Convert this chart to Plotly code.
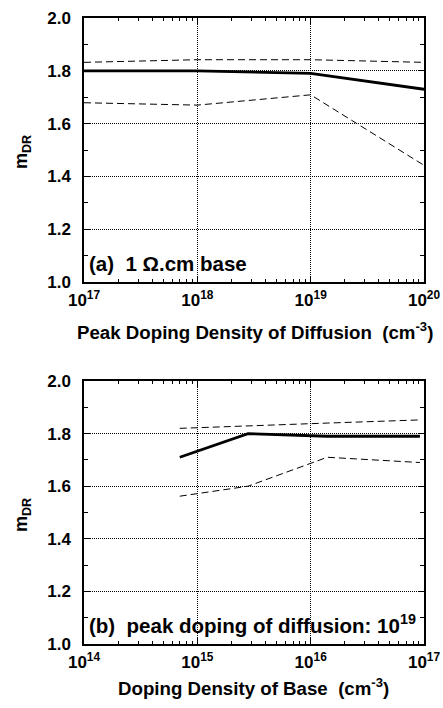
import plotly.graph_objects as go

# ---- data ----
top_x = [1e17, 1e18, 1e19, 1e20]
top_mid = [1.80, 1.80, 1.79, 1.73]
top_upper = [1.832, 1.842, 1.842, 1.832]
top_lower = [1.679, 1.670, 1.709, 1.442]

bot_x = [7e14, 2.8e15, 1.4e16, 9.2e16]
bot_mid = [1.71, 1.80, 1.79, 1.79]
bot_upper = [1.82, 1.83, 1.84, 1.852]
bot_lower = [1.562, 1.60, 1.71, 1.69]

top_ticks = [1e17, 1e18, 1e19, 1e20]
top_ticktext = ["10<sup>17</sup>", "10<sup>18</sup>", "10<sup>19</sup>", "10<sup>20</sup>"]
bot_ticks = [1e14, 1e15, 1e16, 1e17]
bot_ticktext = ["10<sup>14</sup>", "10<sup>15</sup>", "10<sup>16</sup>", "10<sup>17</sup>"]
y_ticks = [1.0, 1.2, 1.4, 1.6, 1.8, 2.0]
y_ticktext = ["1.0", "1.2", "1.4", "1.6", "1.8", "2.0"]

FONT = "Arial, Liberation Sans, sans-serif"
W, H = 443, 708

def px(x):
    return x / W

def py(y):
    return 1 - y / H

fig = go.Figure()

def add_set(x, mid, up, lo, xa, ya):
    fig.add_trace(go.Scatter(x=x, y=up, mode="lines", xaxis=xa, yaxis=ya,
                             line=dict(color="black", width=1, dash="7px,4px"), showlegend=False))
    fig.add_trace(go.Scatter(x=x, y=lo, mode="lines", xaxis=xa, yaxis=ya,
                             line=dict(color="black", width=1, dash="7px,4px"), showlegend=False))
    fig.add_trace(go.Scatter(x=x, y=mid, mode="lines", xaxis=xa, yaxis=ya,
                             line=dict(color="black", width=2.8), showlegend=False))

add_set(top_x, top_mid, top_upper, top_lower, "x", "y")
add_set(bot_x, bot_mid, bot_upper, bot_lower, "x2", "y2")

def minor_log(lo, hi):
    v = []
    for e in range(lo, hi):
        for k in range(2, 10):
            v.append(float(k) * 10.0 ** e)
    return v

xdom = [px(84), px(424)]
top_dom = [py(282), py(18)]
bot_dom = [py(644), py(381)]

def xaxis(dom, anchor, lo, hi, tv, tt):
    return dict(domain=dom, anchor=anchor, type="log", range=[lo, hi], automargin=False,
                tickmode="array", tickvals=tv, ticktext=tt,
                ticks="inside", ticklen=6, tickcolor="black",
                showline=True, linecolor="black", linewidth=1.5, mirror="ticks",
                showgrid=True, gridcolor="black", griddash="1px,1px", gridwidth=1,
                minor=dict(tickmode="array", tickvals=minor_log(lo, hi), ticks="inside",
                           ticklen=3, tickcolor="black", showgrid=False),
                tickfont=dict(family=FONT, size=17, color="black", weight="bold"),
                ticklabelstandoff=2, zeroline=False)

def yaxis(dom, anchor):
    return dict(domain=dom, anchor=anchor, range=[1.0, 2.0], automargin=False,
                tickmode="array", tickvals=y_ticks, ticktext=y_ticktext,
                ticks="inside", ticklen=6, tickcolor="black",
                showline=True, linecolor="black", linewidth=1.5, mirror="ticks",
                showgrid=True, gridcolor="black", griddash="1px,1px", gridwidth=1,
                minor=dict(tickmode="array", tickvals=[1.1, 1.3, 1.5, 1.7, 1.9], ticks="inside",
                           ticklen=4, tickcolor="black", showgrid=False),
                tickfont=dict(family=FONT, size=17, color="black", weight="bold"),
                ticklabelstandoff=8, zeroline=False)

fig.update_layout(
    width=W, height=H, margin=dict(l=0, r=0, t=0, b=0),
    paper_bgcolor="white", plot_bgcolor="white",
    xaxis=xaxis(xdom, "y", 17, 20, top_ticks, top_ticktext),
    yaxis=yaxis(top_dom, "x"),
    xaxis2=xaxis(xdom, "y2", 14, 17, bot_ticks, bot_ticktext),
    yaxis2=yaxis(bot_dom, "x2"),
)

ann_font = dict(family=FONT, size=18.7, color="black", weight="bold")
anns = [
    dict(text="Peak Doping Density of Diffusion &nbsp;(cm<sup>-3</sup>)", x=px((76 + 433) / 2), y=py(331)),
    dict(text="Doping Density of Base &nbsp;(cm<sup>-3</sup>)", x=px((119 + 388) / 2), y=py(687)),
]
for a in anns:
    fig.add_annotation(xref="paper", yref="paper", x=a["x"], y=a["y"], text=a["text"],
                       showarrow=False, font=ann_font, xanchor="center", yanchor="middle")

for yc in [152, 515]:
    fig.add_annotation(xref="paper", yref="paper", x=px(22), y=py(yc), text="m<sub>DR</sub>",
                       showarrow=False, textangle=-90,
                       font=dict(family=FONT, size=18, color="black", weight="bold"),
                       xanchor="center", yanchor="middle")

fig.add_annotation(xref="paper", yref="paper", x=px(87), y=py(263), text="(a) &nbsp;1 Ω.cm base",
                   showarrow=False, font=dict(family=FONT, size=20.5, color="black", weight="bold"),
                   xanchor="left", yanchor="middle")
fig.add_annotation(xref="paper", yref="paper", x=px(87), y=py(624),
                   text="(b) &nbsp;peak doping of diffusion: 10<sup>19</sup>",
                   showarrow=False, font=dict(family=FONT, size=20.5, color="black", weight="bold"),
                   xanchor="left", yanchor="middle")

fig.write_html("out.html", config={"displayModeBar": False},
               post_script="document.body.style.margin='0px';document.body.style.overflow='hidden';")
